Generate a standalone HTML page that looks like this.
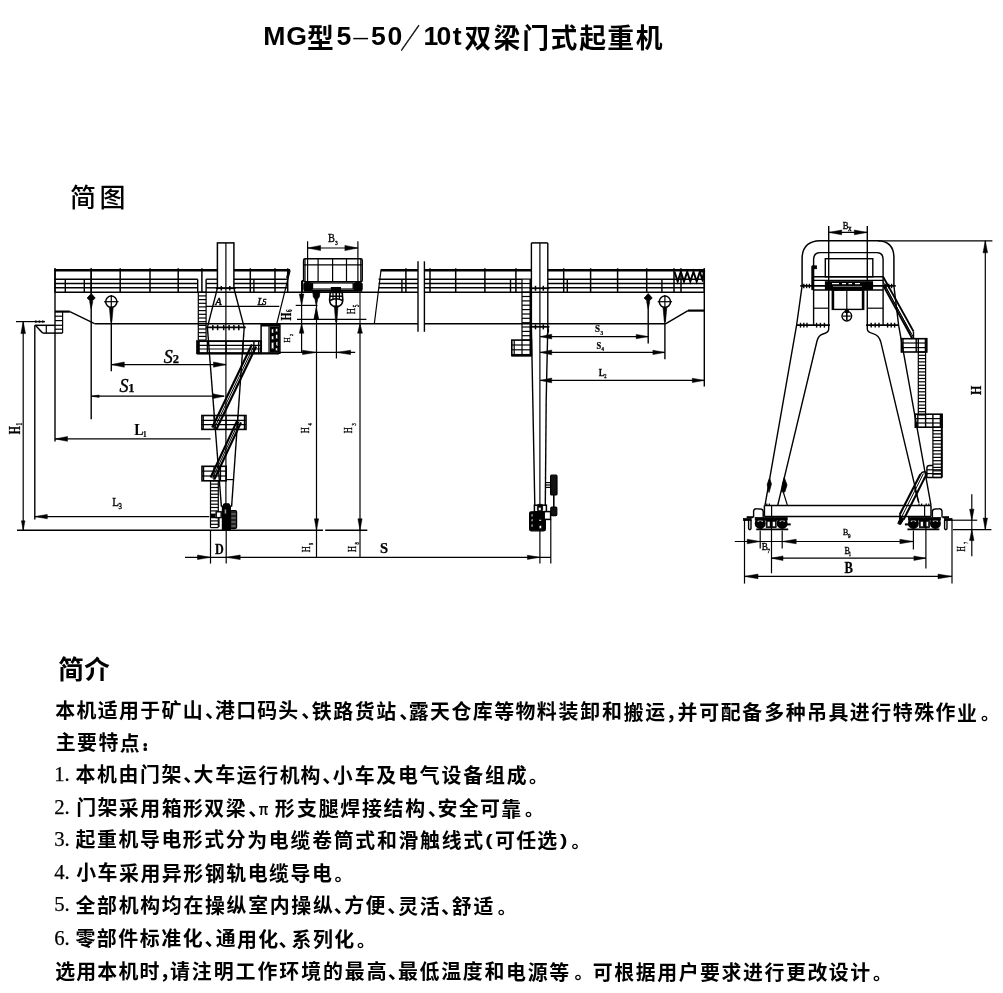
<!DOCTYPE html>
<html lang="zh-CN">
<head>
<meta charset="utf-8">
<title>MG型5—50/10t双梁门式起重机</title>
<style>
html,body{margin:0;padding:0;background:#fff;}
body{width:1003px;height:993px;overflow:hidden;position:relative;font-family:"Liberation Sans","Noto Sans CJK SC",sans-serif;}
svg{position:absolute;left:0;top:0;display:block;will-change:transform;}
text{fill:#000;stroke:none;}
.hei{font-family:"Liberation Sans","Noto Sans CJK SC",sans-serif;font-weight:700;}
.heim{font-family:"Liberation Sans","Noto Sans CJK SC",sans-serif;font-weight:500;}
.thin{font-family:"Liberation Sans","Noto Sans CJK SC",sans-serif;font-weight:400;}
.body{font-family:"Liberation Sans","Noto Sans CJK SC",sans-serif;font-weight:700;}
.colon{font-family:"Liberation Sans","Noto Sans CJK SC",sans-serif;font-weight:700;stroke:#000;stroke-width:2px;stroke-linejoin:round;}
.pun{font-family:"Liberation Serif","Noto Sans CJK SC",sans-serif;font-weight:500;}
.num{font-family:"Liberation Serif","Noto Serif CJK SC",serif;font-weight:400;stroke:#000;stroke-width:0.25px;}
.dim{font-family:"Liberation Serif","Noto Serif CJK SC",serif;font-weight:400;}
.dimb{font-family:"Liberation Serif","Noto Serif CJK SC",serif;font-weight:700;font-style:normal;stroke:#000;stroke-width:0.25px;}
.dims{font-family:"Liberation Serif","Noto Serif CJK SC",serif;font-weight:400;stroke:#000;stroke-width:0.35px;}
.dimi{font-family:"Liberation Serif","Noto Serif CJK SC",serif;font-style:italic;stroke:#000;stroke-width:0.45px;}
.dimbi{font-family:"Liberation Serif","Noto Serif CJK SC",serif;font-style:italic;font-weight:700;}
</style>
</head>
<body>
<svg width="1003" height="993" viewBox="0 0 1003 993">
<g fill="none" stroke="#000" stroke-width="1.2" stroke-linecap="butt">
<line x1="54.7" y1="270.3" x2="217.4" y2="270.3" stroke-width="2.4"/>
<line x1="233.9" y1="270.3" x2="290.1" y2="270.3" stroke-width="2.4"/>
<line x1="380.6" y1="270.3" x2="418" y2="270.3" stroke-width="2.4"/>
<line x1="424.4" y1="270.3" x2="531.4" y2="270.3" stroke-width="2.4"/>
<line x1="547.8" y1="270.3" x2="704.4" y2="270.3" stroke-width="2.4"/>
<line x1="54.7" y1="279.2" x2="197.7" y2="279.2" stroke-width="1.4"/>
<line x1="206.1" y1="279.2" x2="217.4" y2="279.2" stroke-width="1.4"/>
<line x1="233.9" y1="279.2" x2="287.6" y2="279.2" stroke-width="1.4"/>
<line x1="378.6" y1="279.2" x2="418" y2="279.2" stroke-width="1.4"/>
<line x1="424.4" y1="279.2" x2="522" y2="279.2" stroke-width="1.4"/>
<line x1="547.8" y1="279.2" x2="704.4" y2="279.2" stroke-width="1.4"/>
<line x1="54.7" y1="283.5" x2="197.7" y2="283.5" stroke-width="1.4"/>
<line x1="206.1" y1="283.5" x2="217.4" y2="283.5" stroke-width="1.4"/>
<line x1="233.9" y1="283.5" x2="287.6" y2="283.5" stroke-width="1.4"/>
<line x1="378.6" y1="283.5" x2="418" y2="283.5" stroke-width="1.4"/>
<line x1="424.4" y1="283.5" x2="522" y2="283.5" stroke-width="1.4"/>
<line x1="547.8" y1="283.5" x2="704.4" y2="283.5" stroke-width="1.4"/>
<line x1="54.7" y1="287.8" x2="197.7" y2="287.8" stroke-width="1.4"/>
<line x1="206.1" y1="287.8" x2="217.4" y2="287.8" stroke-width="1.4"/>
<line x1="233.9" y1="287.8" x2="287.6" y2="287.8" stroke-width="1.4"/>
<line x1="378.6" y1="287.8" x2="418" y2="287.8" stroke-width="1.4"/>
<line x1="424.4" y1="287.8" x2="522" y2="287.8" stroke-width="1.4"/>
<line x1="547.8" y1="287.8" x2="704.4" y2="287.8" stroke-width="1.4"/>
<line x1="54.7" y1="292.2" x2="418" y2="292.2" stroke-width="1.5"/>
<line x1="424.4" y1="292.2" x2="704.4" y2="292.2" stroke-width="1.5"/>
<line x1="55" y1="268.3" x2="55" y2="292.2" stroke-width="1.5"/>
<line x1="91.2" y1="268.3" x2="91.2" y2="292.2" stroke-width="1.5"/>
<line x1="120.2" y1="268.3" x2="120.2" y2="292.2" stroke-width="1.5"/>
<line x1="150" y1="268.3" x2="150" y2="292.2" stroke-width="1.5"/>
<line x1="178.2" y1="268.3" x2="178.2" y2="292.2" stroke-width="1.5"/>
<line x1="201.9" y1="268.3" x2="201.9" y2="292.2" stroke-width="1.5"/>
<line x1="250.3" y1="268.3" x2="250.3" y2="292.2" stroke-width="1.5"/>
<line x1="275" y1="268.3" x2="275" y2="292.2" stroke-width="1.5"/>
<line x1="287.7" y1="268.3" x2="287.7" y2="292.2" stroke-width="1.5"/>
<line x1="405.9" y1="268.3" x2="405.9" y2="292.2" stroke-width="1.5"/>
<line x1="430" y1="268.3" x2="430" y2="292.2" stroke-width="1.5"/>
<line x1="455.7" y1="268.3" x2="455.7" y2="292.2" stroke-width="1.5"/>
<line x1="484.9" y1="268.3" x2="484.9" y2="292.2" stroke-width="1.5"/>
<line x1="515.9" y1="268.3" x2="515.9" y2="292.2" stroke-width="1.5"/>
<line x1="563.7" y1="268.3" x2="563.7" y2="292.2" stroke-width="1.5"/>
<line x1="590.6" y1="268.3" x2="590.6" y2="292.2" stroke-width="1.5"/>
<line x1="617.6" y1="268.3" x2="617.6" y2="292.2" stroke-width="1.5"/>
<line x1="646.7" y1="268.3" x2="646.7" y2="292.2" stroke-width="1.5"/>
<line x1="674" y1="268.3" x2="674" y2="292.2" stroke-width="1.5"/>
<line x1="681" y1="268.3" x2="681" y2="292.2" stroke-width="1.5"/>
<line x1="704.3" y1="268.3" x2="704.3" y2="292.2" stroke-width="1.5"/>
<line x1="65.3" y1="279.2" x2="65.3" y2="292.2" stroke-width="1.4"/>
<line x1="84.3" y1="279.2" x2="84.3" y2="292.2" stroke-width="1.4"/>
<line x1="197.7" y1="279.2" x2="197.7" y2="292.2" stroke-width="1.4"/>
<line x1="206.1" y1="279.2" x2="206.1" y2="292.2" stroke-width="1.4"/>
<line x1="253.9" y1="279.2" x2="253.9" y2="292.2" stroke-width="1.4"/>
<line x1="401.9" y1="279.2" x2="401.9" y2="292.2" stroke-width="1.4"/>
<line x1="510.5" y1="279.2" x2="510.5" y2="292.2" stroke-width="1.4"/>
<line x1="567.3" y1="279.2" x2="567.3" y2="292.2" stroke-width="1.4"/>
<line x1="661.9" y1="279.2" x2="661.9" y2="292.2" stroke-width="1.4"/>
<line x1="290.1" y1="270.3" x2="276.8" y2="323.7"/>
<line x1="381" y1="270.3" x2="374.3" y2="323.7"/>
<line x1="288.9" y1="271.3" x2="287" y2="278" stroke-width="2"/>
<polyline points="674.5,271.6 677.7,281.6 680.8,271.6 684,281.6 687.2,271.6 690.3,281.6 693.5,271.6 696.7,281.6 699.8,271.6 703,281.6" stroke-width="1.9"/>
<polyline points="700,271 704,272 702.5,279" stroke-width="2"/>
<line x1="94.6" y1="323.7" x2="418" y2="323.7" stroke-width="1.4"/>
<line x1="424.4" y1="323.7" x2="665.9" y2="323.7" stroke-width="1.4"/>
<line x1="55" y1="268.5" x2="55" y2="441.5" stroke-width="1.4"/>
<line x1="55" y1="311.6" x2="69.8" y2="311.6" stroke-width="2.2"/>
<line x1="69.8" y1="311.6" x2="94.6" y2="323.7" stroke-width="1.4"/>
<line x1="62.6" y1="311.6" x2="62.6" y2="333.1"/>
<line x1="55" y1="316.2" x2="62.6" y2="316.2"/>
<line x1="55" y1="320.6" x2="62.6" y2="320.6"/>
<line x1="55" y1="325.3" x2="62.6" y2="325.3"/>
<line x1="55" y1="329.2" x2="62.6" y2="329.2"/>
<line x1="34.8" y1="325.3" x2="55" y2="325.3" stroke-width="1.5"/>
<line x1="42.6" y1="333.1" x2="62.6" y2="333.1" stroke-width="1.5"/>
<line x1="35.6" y1="325.6" x2="42.6" y2="333.1" stroke-width="1.5"/>
<line x1="46.3" y1="325.3" x2="46.3" y2="333.1"/>
<line x1="34.8" y1="325.3" x2="34.8" y2="519.5" stroke-width="1.4"/>
<line x1="665.9" y1="323.7" x2="688" y2="310.6" stroke-width="1.4"/>
<line x1="688" y1="310.6" x2="704.3" y2="310.6" stroke-width="2.2"/>
<line x1="704.3" y1="268.5" x2="704.3" y2="386.5" stroke-width="1.4"/>
<line x1="418" y1="261.3" x2="418" y2="331.8" stroke-width="1.4"/>
<line x1="424.4" y1="261.3" x2="424.4" y2="331.8" stroke-width="1.4"/>
<polygon points="91.2,293.6 95.2,298 91.2,302 87.2,298" stroke-width="0.8" fill="#000"/>
<polygon points="89.6,301.5 92.8,301.5 91.2,309" stroke-width="0.6" fill="#000"/>
<line x1="91.2" y1="302" x2="91.2" y2="419.3" stroke-width="1.4"/>
<circle cx="111.3" cy="301.7" r="5.6" stroke-width="1.5"/>
<line x1="104.1" y1="301.7" x2="118.5" y2="301.7"/>
<line x1="111.3" y1="295" x2="111.3" y2="308"/>
<polygon points="109.4,307.5 113.2,307.5 111.9,321.5 110.7,321.5" stroke-width="0.6" fill="#000"/>
<line x1="111.3" y1="308" x2="111.3" y2="371.2" stroke-width="1.4"/>
<polygon points="648.2,293.6 652.2,298 648.2,302 644.2,298" stroke-width="0.8" fill="#000"/>
<polygon points="646.6,301.5 649.8,301.5 648.2,309" stroke-width="0.6" fill="#000"/>
<line x1="648.2" y1="302" x2="648.2" y2="343.5" stroke-width="1.4"/>
<circle cx="664.9" cy="301.7" r="5.6" stroke-width="1.5"/>
<line x1="657.7" y1="301.7" x2="672.1" y2="301.7"/>
<line x1="664.9" y1="295" x2="664.9" y2="308"/>
<polygon points="663,307.5 666.8,307.5 665.5,321.5 664.3,321.5" stroke-width="0.6" fill="#000"/>
<line x1="664.9" y1="308" x2="664.9" y2="359.2" stroke-width="1.4"/>
<line x1="91.2" y1="268.5" x2="91.2" y2="294" stroke-width="1.5"/>
<rect x="217.4" y="242.9" width="16.5" height="45.3" stroke-width="1.5"/>
<line x1="225.9" y1="242.9" x2="225.9" y2="506"/>
<line x1="215.8" y1="288.2" x2="235.6" y2="288.2" stroke-width="1.8"/>
<line x1="221.3" y1="286" x2="221.3" y2="290.6" stroke-width="1.5"/>
<line x1="229.8" y1="286" x2="229.8" y2="290.6" stroke-width="1.5"/>
<line x1="217.4" y1="288.2" x2="207.4" y2="327.4" stroke-width="1.4"/>
<line x1="233.9" y1="288.2" x2="244.2" y2="327.4" stroke-width="1.4"/>
<line x1="205.8" y1="327.4" x2="245.8" y2="327.4" stroke-width="1.8"/>
<line x1="212.8" y1="325" x2="212.8" y2="330.2" stroke-width="1.5"/>
<line x1="217.6" y1="325" x2="217.6" y2="330.2" stroke-width="1.5"/>
<line x1="223.7" y1="325" x2="223.7" y2="330.2" stroke-width="1.5"/>
<line x1="229.1" y1="325" x2="229.1" y2="330.2" stroke-width="1.5"/>
<line x1="233.9" y1="325" x2="233.9" y2="330.2" stroke-width="1.5"/>
<line x1="238.8" y1="325" x2="238.8" y2="330.2" stroke-width="1.5"/>
<line x1="207.4" y1="327.4" x2="221.4" y2="506.8" stroke-width="1.4"/>
<line x1="244.2" y1="327.4" x2="231.6" y2="506.8" stroke-width="1.4"/>
<line x1="206.1" y1="306.3" x2="279.3" y2="306.3"/>
<line x1="198.3" y1="292.2" x2="198.3" y2="340.1"/>
<line x1="206.1" y1="292.2" x2="206.1" y2="340.1"/>
<line x1="198.3" y1="292.2" x2="206.1" y2="292.2"/>
<line x1="198.3" y1="295.9" x2="206.1" y2="295.9"/>
<line x1="198.3" y1="299.6" x2="206.1" y2="299.6"/>
<line x1="198.3" y1="303.3" x2="206.1" y2="303.3"/>
<line x1="198.3" y1="306.9" x2="206.1" y2="306.9"/>
<line x1="198.3" y1="310.6" x2="206.1" y2="310.6"/>
<line x1="198.3" y1="314.3" x2="206.1" y2="314.3"/>
<line x1="198.3" y1="318" x2="206.1" y2="318"/>
<line x1="198.3" y1="321.7" x2="206.1" y2="321.7"/>
<line x1="198.3" y1="325.4" x2="206.1" y2="325.4"/>
<line x1="198.3" y1="329" x2="206.1" y2="329"/>
<line x1="198.3" y1="332.7" x2="206.1" y2="332.7"/>
<line x1="198.3" y1="336.4" x2="206.1" y2="336.4"/>
<line x1="198.3" y1="340.1" x2="206.1" y2="340.1"/>
<rect x="197.1" y="341.1" width="64" height="12.1" stroke-width="1.9"/>
<line x1="197.1" y1="345.4" x2="261.1" y2="345.4"/>
<line x1="197.1" y1="349" x2="261.1" y2="349"/>
<line x1="198.4" y1="341.1" x2="198.4" y2="353.2" stroke-width="2.8"/>
<line x1="207.4" y1="341.1" x2="207.4" y2="353.2" stroke-width="1.4"/>
<line x1="226.1" y1="341.1" x2="226.1" y2="353.2" stroke-width="1.4"/>
<line x1="243" y1="341.1" x2="243" y2="353.2" stroke-width="1.4"/>
<line x1="253.9" y1="341.1" x2="253.9" y2="353.2" stroke-width="1.4"/>
<line x1="258.7" y1="341.1" x2="258.7" y2="353.2" stroke-width="1.4"/>
<line x1="197.1" y1="353.6" x2="279" y2="353.6" stroke-width="2"/>
<rect x="261.1" y="324.8" width="18.8" height="28.4" stroke-width="1.5"/>
<line x1="261.1" y1="325.4" x2="279.9" y2="325.4" stroke-width="2.2"/>
<line x1="269" y1="325" x2="269" y2="353.2"/>
<rect x="270.4" y="327" width="8.6" height="25" fill="#000"/>
<rect x="271.6" y="329" width="1.8" height="4" stroke-width="0.4" fill="#fff"/>
<rect x="275.6" y="328.6" width="2" height="3" stroke-width="0.4" fill="#fff"/>
<rect x="271.6" y="336" width="2" height="3.4" stroke-width="0.4" fill="#fff"/>
<rect x="275.8" y="334.6" width="1.8" height="4" stroke-width="0.4" fill="#fff"/>
<rect x="271.4" y="342.4" width="2.4" height="6.2" stroke-width="0.4" fill="#fff"/>
<rect x="276" y="341.6" width="1.8" height="4.4" stroke-width="0.4" fill="#fff"/>
<rect x="275.6" y="348" width="1.8" height="2.6" stroke-width="0.4" fill="#fff"/>
<line x1="252" y1="344.6" x2="212.2" y2="427.4" stroke-width="2.2"/>
<line x1="256.1" y1="346.6" x2="216.3" y2="429.4" stroke-width="2.2"/>
<line x1="254.1" y1="345.6" x2="214.3" y2="428.4" stroke-width="1"/>
<rect x="201.9" y="415.5" width="44.1" height="13.9" stroke-width="1.6"/>
<line x1="201.9" y1="420.3" x2="246" y2="420.3"/>
<line x1="201.9" y1="424.6" x2="246" y2="424.6"/>
<line x1="203.3" y1="415.5" x2="203.3" y2="429.4"/>
<line x1="214" y1="415.5" x2="214" y2="429.4"/>
<line x1="226.1" y1="415.5" x2="226.1" y2="429.4"/>
<line x1="237.6" y1="415.5" x2="237.6" y2="429.4"/>
<line x1="244.4" y1="415.5" x2="244.4" y2="429.4"/>
<line x1="237.2" y1="420.6" x2="210.6" y2="477.5" stroke-width="2.2"/>
<line x1="241" y1="422.4" x2="214.4" y2="479.3" stroke-width="2.2"/>
<line x1="239.1" y1="421.5" x2="212.5" y2="478.4" stroke-width="1"/>
<rect x="202" y="466.3" width="24.2" height="14.5" stroke-width="1.6"/>
<line x1="202" y1="471.1" x2="226.2" y2="471.1"/>
<line x1="202" y1="476" x2="226.2" y2="476"/>
<line x1="203.6" y1="466.3" x2="203.6" y2="480.8"/>
<line x1="214" y1="466.3" x2="214" y2="480.8"/>
<line x1="220.5" y1="466.3" x2="220.5" y2="480.8"/>
<line x1="226.2" y1="479.6" x2="233.4" y2="479.6"/>
<line x1="210.5" y1="480.8" x2="210.5" y2="527.6"/>
<line x1="218.3" y1="480.8" x2="218.3" y2="527.6"/>
<line x1="210.5" y1="480.8" x2="218.3" y2="480.8"/>
<line x1="210.5" y1="484.1" x2="218.3" y2="484.1"/>
<line x1="210.5" y1="487.5" x2="218.3" y2="487.5"/>
<line x1="210.5" y1="490.8" x2="218.3" y2="490.8"/>
<line x1="210.5" y1="494.2" x2="218.3" y2="494.2"/>
<line x1="210.5" y1="497.5" x2="218.3" y2="497.5"/>
<line x1="210.5" y1="500.9" x2="218.3" y2="500.9"/>
<line x1="210.5" y1="504.2" x2="218.3" y2="504.2"/>
<line x1="210.5" y1="507.5" x2="218.3" y2="507.5"/>
<line x1="210.5" y1="510.9" x2="218.3" y2="510.9"/>
<line x1="210.5" y1="514.2" x2="218.3" y2="514.2"/>
<line x1="210.5" y1="517.6" x2="218.3" y2="517.6"/>
<line x1="210.5" y1="520.9" x2="218.3" y2="520.9"/>
<line x1="210.5" y1="524.3" x2="218.3" y2="524.3"/>
<line x1="210.5" y1="527.6" x2="218.3" y2="527.6"/>
<rect x="222.4" y="506" width="8" height="23.8" fill="#000"/>
<rect x="230.4" y="510.5" width="6.2" height="18.1" fill="#222" rx="1.5"/>
<rect x="223.6" y="503.8" width="5.8" height="2.7" fill="#000" rx="1"/>
<rect x="216.2" y="511.8" width="5" height="5.8" stroke-width="1.4" fill="#fff"/>
<rect x="224.3" y="509" width="2.7" height="5" stroke-width="0.8" fill="#fff"/>
<line x1="231.4" y1="514" x2="235.8" y2="514" stroke-width="0.9" stroke="#999"/>
<line x1="231.4" y1="518" x2="235.8" y2="518" stroke-width="0.9" stroke="#999"/>
<line x1="231.4" y1="522" x2="235.8" y2="522" stroke-width="0.9" stroke="#999"/>
<line x1="231.4" y1="526" x2="235.8" y2="526" stroke-width="0.9" stroke="#999"/>
<rect x="210.5" y="514.5" width="4.5" height="3" stroke-width="1" fill="#000"/>
<line x1="219" y1="518" x2="219" y2="527"/>
<line x1="531.4" y1="242.9" x2="531.4" y2="326.8" stroke-width="1.4"/>
<line x1="547.8" y1="242.9" x2="547.8" y2="326.8" stroke-width="1.4"/>
<line x1="531.4" y1="242.9" x2="547.8" y2="242.9" stroke-width="1.5"/>
<line x1="539.9" y1="242.9" x2="539.9" y2="563.6"/>
<line x1="547.8" y1="326.8" x2="546.2" y2="400" stroke-width="1.4"/>
<line x1="546.2" y1="400" x2="545.3" y2="505" stroke-width="1.4"/>
<line x1="531.4" y1="326.8" x2="532.8" y2="400" stroke-width="1.4"/>
<line x1="532.8" y1="400" x2="534.8" y2="505" stroke-width="1.4"/>
<polyline points="547.8,326.8 548.6,331 546.8,336"/>
<line x1="529.8" y1="288.2" x2="549.4" y2="288.2" stroke-width="1.8"/>
<line x1="535.5" y1="285.8" x2="535.5" y2="290.8" stroke-width="1.5"/>
<line x1="543.3" y1="285.8" x2="543.3" y2="290.8" stroke-width="1.5"/>
<line x1="529.8" y1="326.8" x2="549.4" y2="326.8" stroke-width="1.8"/>
<line x1="535.5" y1="324.4" x2="535.5" y2="329.4" stroke-width="1.5"/>
<line x1="543.3" y1="324.4" x2="543.3" y2="329.4" stroke-width="1.5"/>
<line x1="522" y1="279.1" x2="522" y2="340.1"/>
<line x1="531" y1="279.1" x2="531" y2="340.1"/>
<line x1="522" y1="279.1" x2="531" y2="279.1"/>
<line x1="522" y1="283.5" x2="531" y2="283.5"/>
<line x1="522" y1="287.8" x2="531" y2="287.8"/>
<line x1="522" y1="292.2" x2="531" y2="292.2"/>
<line x1="522" y1="296.5" x2="531" y2="296.5"/>
<line x1="522" y1="300.9" x2="531" y2="300.9"/>
<line x1="522" y1="305.2" x2="531" y2="305.2"/>
<line x1="522" y1="309.6" x2="531" y2="309.6"/>
<line x1="522" y1="314" x2="531" y2="314"/>
<line x1="522" y1="318.3" x2="531" y2="318.3"/>
<line x1="522" y1="322.7" x2="531" y2="322.7"/>
<line x1="522" y1="327" x2="531" y2="327"/>
<line x1="522" y1="331.4" x2="531" y2="331.4"/>
<line x1="522" y1="335.7" x2="531" y2="335.7"/>
<line x1="522" y1="340.1" x2="531" y2="340.1"/>
<line x1="530.6" y1="279" x2="530.6" y2="356" stroke-width="2.2"/>
<rect x="511.8" y="340.1" width="19.6" height="15.5" stroke-width="1.6"/>
<line x1="511.8" y1="345" x2="531.4" y2="345"/>
<line x1="511.8" y1="349.8" x2="531.4" y2="349.8"/>
<line x1="514.2" y1="340.1" x2="514.2" y2="355.6"/>
<line x1="522" y1="340.1" x2="522" y2="355.6"/>
<line x1="511.8" y1="355.2" x2="531.4" y2="355.2" stroke-width="2.5"/>
<rect x="529.6" y="511.8" width="15.8" height="19" fill="#000" rx="1.5"/>
<rect x="531.2" y="514" width="1.6" height="2.4" stroke-width="0.4" fill="#fff"/>
<rect x="531.2" y="519" width="1.6" height="2.2" stroke-width="0.4" fill="#fff"/>
<rect x="531.2" y="524.2" width="1.6" height="2.4" stroke-width="0.4" fill="#fff"/>
<rect x="539.2" y="525.6" width="2.2" height="2.8" stroke-width="0.4" fill="#fff"/>
<rect x="539" y="519.6" width="2.2" height="1.4" stroke-width="0.4" fill="#fff"/>
<rect x="534.4" y="505.2" width="12" height="6.6" stroke-width="1.5"/>
<rect x="537.4" y="504.4" width="5.2" height="6.6" stroke-width="0.8" fill="#000" rx="1"/>
<rect x="538.6" y="507.4" width="2.4" height="3" stroke-width="0.4" fill="#fff"/>
<rect x="544.2" y="511.6" width="6.4" height="7.8" stroke-width="1.5" fill="#fff"/>
<rect x="550.6" y="475.2" width="6.4" height="19.8" fill="#111" rx="1"/>
<line x1="545.6" y1="482.6" x2="550.6" y2="482.6"/>
<line x1="545.6" y1="485" x2="550.6" y2="485"/>
<line x1="545.6" y1="487.4" x2="550.6" y2="487.4"/>
<line x1="553.8" y1="495" x2="553.8" y2="507" stroke-width="1.6"/>
<rect x="550.8" y="507" width="6" height="8.6" fill="#111" rx="1"/>
<line x1="550.8" y1="519.4" x2="550.8" y2="563.6"/>
<rect x="303.6" y="258.8" width="58.6" height="23" stroke-width="1.5" rx="1.5"/>
<line x1="303.6" y1="264.9" x2="362.2" y2="264.9"/>
<line x1="305" y1="258.8" x2="305" y2="281.8"/>
<line x1="318.1" y1="258.8" x2="318.1" y2="281.8"/>
<line x1="332.6" y1="258.8" x2="332.6" y2="281.8"/>
<line x1="346.5" y1="258.8" x2="346.5" y2="281.8"/>
<line x1="360.8" y1="258.8" x2="360.8" y2="281.8"/>
<rect x="303.8" y="282.6" width="8.4" height="8" stroke-width="1" fill="#000" rx="1.5"/>
<rect x="353.8" y="282.6" width="8.4" height="8" stroke-width="1" fill="#000" rx="1.5"/>
<rect x="312.6" y="283" width="40.5" height="6"/>
<line x1="303.8" y1="290.8" x2="362.2" y2="290.8" stroke-width="2"/>
<line x1="302.4" y1="280" x2="302.4" y2="292" stroke-width="1.5"/>
<polygon points="312.6,290.5 320.2,290.5 319.2,297 317.6,299 316.3,306 315,299 313.4,297" stroke-width="0.8" fill="#000"/>
<polygon points="316.3,308 318.4,319.3 314.2,319.3" stroke-width="0.6" fill="#000"/>
<rect x="331.4" y="287.6" width="9" height="4.8" fill="#000"/>
<path d="M330.2 292.4 L342.2 292.4 L342.8 300 Q342.6 305 338.4 306.4 L334 306.4 Q329.8 305 329.6 300 Z" stroke-width="1.6"/>
<line x1="336.2" y1="292.4" x2="336.2" y2="306.4" stroke-width="1.6"/>
<line x1="333" y1="292.4" x2="333" y2="299"/>
<line x1="339.4" y1="292.4" x2="339.4" y2="299"/>
<line x1="330" y1="296.2" x2="342.6" y2="296.2" stroke-width="1.5"/>
<path d="M330 300.5 Q336.2 296.8 342.6 300.5" stroke-width="1.5"/>
<polygon points="334.4,306.4 338,306.4 336.8,322 335.6,322" stroke-width="0.6" fill="#000"/>
<line x1="17" y1="530.3" x2="323" y2="530.3" stroke-width="1.6"/>
<line x1="325.2" y1="530.3" x2="367.3" y2="530.3" stroke-width="1.6"/>
<line x1="23.2" y1="321.6" x2="23.2" y2="530.3"/>
<polygon points="23.2,321.6 20.9,333.6 25.5,333.6" fill="#000" stroke-width="0.5"/>
<polygon points="23.2,530.3 21.4,520.8 25,520.8" fill="#000" stroke-width="0.5"/>
<line x1="16" y1="321.6" x2="45" y2="321.6"/>
<polygon points="38,321.6 35.4,320.5 35.4,322.7" fill="#000" stroke-width="0.5"/>
<polygon points="41.5,321.6 38.9,320.5 38.9,322.7" fill="#000" stroke-width="0.5"/>
<polygon points="45,321.6 42.4,320.5 42.4,322.7" fill="#000" stroke-width="0.5"/>
<line x1="55" y1="438.9" x2="210.6" y2="438.9"/>
<polygon points="55,438.9 67.5,436.5 67.5,441.3" fill="#000" stroke-width="0.5"/>
<line x1="34.8" y1="516.6" x2="209.3" y2="516.6"/>
<polygon points="34.8,516.6 47.3,514.4 47.3,518.8" fill="#000" stroke-width="0.5"/>
<line x1="111.3" y1="364.6" x2="226.1" y2="364.6"/>
<polygon points="111.3,364.6 124.3,362 124.3,367.2" fill="#000" stroke-width="0.5"/>
<polygon points="226.1,364.6 213.5,362 213.5,367.2" fill="#000" stroke-width="0.5"/>
<line x1="91.2" y1="396.2" x2="224" y2="396.2"/>
<polygon points="91.2,396.2 99.2,395 99.2,397.4" fill="#000" stroke-width="0.5"/>
<polygon points="224.4,396.2 212.9,393.8 212.9,398.6" fill="#000" stroke-width="0.5"/>
<line x1="185" y1="557.3" x2="551" y2="557.3"/>
<line x1="210.5" y1="530.3" x2="210.5" y2="563.6"/>
<line x1="226.2" y1="506" x2="226.2" y2="563.6"/>
<polygon points="210.5,557.3 197.5,555 197.5,559.6" fill="#000" stroke-width="0.5"/>
<polygon points="226.2,557.3 240.2,555 240.2,559.6" fill="#000" stroke-width="0.5"/>
<polygon points="539.9,557.3 527.4,555.2 527.4,559.4" fill="#000" stroke-width="0.5"/>
<line x1="316.5" y1="306" x2="316.5" y2="557.3"/>
<polygon points="316.5,530.3 314.4,518.8 318.6,518.8" fill="#000" stroke-width="0.5"/>
<line x1="360" y1="323.7" x2="360" y2="557.3"/>
<polygon points="360,530.3 357.9,518.8 362.1,518.8" fill="#000" stroke-width="0.5"/>
<polygon points="360,323.7 357.6,333.2 362.4,333.2" fill="#000" stroke-width="0.5"/>
<line x1="360" y1="292.2" x2="360" y2="323.7" stroke-width="1.1"/>
<line x1="301.6" y1="281" x2="301.6" y2="352.5"/>
<polygon points="301.6,305.4 299.3,293.9 303.9,293.9" fill="#000" stroke-width="0.5"/>
<polygon points="301.6,323.7 299.3,333.2 303.9,333.2" fill="#000" stroke-width="0.5"/>
<line x1="295.7" y1="305.4" x2="317.5" y2="305.4"/>
<line x1="297" y1="319.3" x2="366.4" y2="319.3"/>
<polygon points="316.3,306.2 316.2,306.3 316.4,306.3" fill="#000" stroke-width="0.5"/>
<polygon points="316.3,307.8 318.6,319.3 314,319.3" stroke-width="0.6" fill="#000"/>
<line x1="336.4" y1="322" x2="336.4" y2="358.4"/>
<line x1="278.7" y1="352.4" x2="355.2" y2="352.4"/>
<polygon points="316.5,352.4 302.5,350.2 302.5,354.6" fill="#000" stroke-width="0.5"/>
<polygon points="336.6,352.4 350.6,350.2 350.6,354.6" fill="#000" stroke-width="0.5"/>
<line x1="307.6" y1="241.3" x2="307.6" y2="283"/>
<line x1="357.9" y1="241.3" x2="357.9" y2="283"/>
<line x1="307.6" y1="248" x2="357.9" y2="248"/>
<polygon points="307.6,248 320.6,245.4 320.6,250.6" fill="#000" stroke-width="0.5"/>
<polygon points="357.9,248 344.9,245.4 344.9,250.6" fill="#000" stroke-width="0.5"/>
<line x1="540.2" y1="336.6" x2="648.2" y2="336.6"/>
<polygon points="540.2,336.6 551.7,334.2 551.7,339" fill="#000" stroke-width="0.5"/>
<polygon points="648.2,336.6 636.2,334.4 636.2,338.8" fill="#000" stroke-width="0.5"/>
<line x1="540.2" y1="352.4" x2="664.9" y2="352.4"/>
<polygon points="540.2,352.4 551.7,350 551.7,354.8" fill="#000" stroke-width="0.5"/>
<polygon points="664.9,352.4 652.9,350.2 652.9,354.6" fill="#000" stroke-width="0.5"/>
<line x1="540.2" y1="380.4" x2="704.3" y2="380.4"/>
<polygon points="540.2,380.4 551.7,378 551.7,382.8" fill="#000" stroke-width="0.5"/>
<polygon points="704.3,380.4 692.3,378.2 692.3,382.6" fill="#000" stroke-width="0.5"/>
<path d="M802.1 285.9 L802.1 258 Q802.6 241.2 820 240.8 L878 240.8 Q893.6 241.4 893.9 257 L893.9 285.9" stroke-width="1.5"/>
<path d="M813.6 326 L813.6 259 Q813.8 252.8 820 252.6 L877 252.6 Q883 252.8 883.1 259 L883.1 326" stroke-width="1.4"/>
<rect x="825.3" y="258.7" width="47.5" height="18.1" stroke-width="1.4"/>
<line x1="828.7" y1="226" x2="828.7" y2="326" stroke-width="1.4"/>
<line x1="867.3" y1="226" x2="867.3" y2="326" stroke-width="1.4"/>
<line x1="828.7" y1="232.4" x2="867.3" y2="232.4"/>
<polygon points="828.7,232.4 841.7,230 841.7,234.8" fill="#000" stroke-width="0.5"/>
<polygon points="867.3,232.4 854.3,230 854.3,234.8" fill="#000" stroke-width="0.5"/>
<line x1="813.6" y1="276.8" x2="883.1" y2="276.8" stroke-width="1.4"/>
<line x1="813.6" y1="280.4" x2="883.1" y2="280.4" stroke-width="1.4"/>
<line x1="800.3" y1="285.9" x2="895.7" y2="285.9" stroke-width="1.8"/>
<line x1="813.6" y1="290.1" x2="883.1" y2="290.1" stroke-width="1.5"/>
<rect x="825.5" y="281.8" width="47" height="7.6" fill="#000"/>
<line x1="832" y1="283.6" x2="839" y2="283.6" stroke="#fff"/>
<line x1="842" y1="283.6" x2="846" y2="283.6" stroke="#fff"/>
<line x1="848.5" y1="283.6" x2="852" y2="283.6" stroke="#fff"/>
<line x1="855" y1="283.6" x2="860" y2="283.6" stroke="#fff"/>
<line x1="833" y1="286.4" x2="862" y2="286.4" stroke-width="0.9" stroke="#888"/>
<line x1="803.8" y1="283.8" x2="803.8" y2="288.2" stroke-width="1.4"/>
<line x1="806.6" y1="283.8" x2="806.6" y2="288.2" stroke-width="1.4"/>
<line x1="809.4" y1="283.8" x2="809.4" y2="288.2" stroke-width="1.4"/>
<line x1="885.8" y1="283.8" x2="885.8" y2="288.2" stroke-width="1.4"/>
<line x1="888.8" y1="283.8" x2="888.8" y2="288.2" stroke-width="1.4"/>
<line x1="891.6" y1="283.8" x2="891.6" y2="288.2" stroke-width="1.4"/>
<line x1="812.4" y1="265.9" x2="812.4" y2="290.1" stroke-width="2.2"/>
<rect x="812.4" y="265.9" width="4" height="2.7" stroke-width="1" fill="#000"/>
<rect x="832.3" y="290.1" width="31.4" height="19.3" stroke-width="1.4"/>
<line x1="846.8" y1="290.1" x2="846.8" y2="311.5"/>
<line x1="833.6" y1="290.1" x2="833.6" y2="309.4"/>
<line x1="862.4" y1="290.1" x2="862.4" y2="309.4"/>
<line x1="813.6" y1="308.2" x2="828.7" y2="308.2"/>
<line x1="867.3" y1="308.2" x2="883.1" y2="308.2"/>
<circle cx="846.8" cy="316.1" r="4.8" stroke-width="1.5"/>
<line x1="846.8" y1="309.4" x2="846.8" y2="320" stroke-width="1.6"/>
<line x1="843" y1="316.1" x2="850.6" y2="316.1"/>
<rect x="845.2" y="310" width="3.2" height="2.6" stroke-width="0.8" fill="#000"/>
<line x1="796.6" y1="325.1" x2="829.9" y2="325.1" stroke-width="1.8"/>
<line x1="866.1" y1="325.1" x2="898.8" y2="325.1" stroke-width="1.8"/>
<line x1="800.5" y1="322.8" x2="800.5" y2="327.6" stroke-width="1.4"/>
<line x1="803.8" y1="322.8" x2="803.8" y2="327.6" stroke-width="1.4"/>
<line x1="807" y1="322.8" x2="807" y2="327.6" stroke-width="1.4"/>
<line x1="816.6" y1="322.8" x2="816.6" y2="327.6" stroke-width="1.4"/>
<line x1="820.4" y1="322.8" x2="820.4" y2="327.6" stroke-width="1.4"/>
<line x1="824.4" y1="322.8" x2="824.4" y2="327.6" stroke-width="1.4"/>
<line x1="871.2" y1="322.8" x2="871.2" y2="327.6" stroke-width="1.4"/>
<line x1="875.2" y1="322.8" x2="875.2" y2="327.6" stroke-width="1.4"/>
<line x1="879" y1="322.8" x2="879" y2="327.6" stroke-width="1.4"/>
<line x1="887.6" y1="322.8" x2="887.6" y2="327.6" stroke-width="1.4"/>
<line x1="891.2" y1="322.8" x2="891.2" y2="327.6" stroke-width="1.4"/>
<line x1="894.6" y1="322.8" x2="894.6" y2="327.6" stroke-width="1.4"/>
<polyline points="802.1,285.9 796.6,325.1 765,505.4" stroke-width="1.4"/>
<polyline points="893.9,285.9 898.6,325.1 931,505.4" stroke-width="1.4"/>
<path d="M828.7 325.1 L828.7 329 Q828.7 332.6 823 334 Q818.6 335 817 341 L777.7 505.4" stroke-width="1.4"/>
<path d="M867.3 325.1 L867.3 329 Q867.3 332.2 873 333.6 Q879 335 880.9 342.3 L918.8 502.7" stroke-width="1.4"/>
<polygon points="769.5,478 771.4,484 769,492.5 767.2,484.5" stroke-width="0.8" fill="#000"/>
<polygon points="784.2,477.5 787,485 784.8,492 781.6,491.8 782.4,484" stroke-width="0.8" fill="#000"/>
<line x1="783.2" y1="491.8" x2="787.4" y2="505.4"/>
<line x1="918.8" y1="502.7" x2="914" y2="486"/>
<line x1="764.4" y1="505.4" x2="931" y2="505.4" stroke-width="1.5"/>
<line x1="764.4" y1="516.5" x2="931" y2="516.5" stroke-width="1.5"/>
<line x1="764.4" y1="505.4" x2="764.4" y2="516.5" stroke-width="1.5"/>
<line x1="771.6" y1="505.4" x2="771.6" y2="516.5"/>
<line x1="931" y1="505.4" x2="931" y2="516.5" stroke-width="1.5"/>
<line x1="924.6" y1="505.4" x2="924.6" y2="516.5"/>
<line x1="766.8" y1="503.4" x2="766.8" y2="505.4"/>
<line x1="769.4" y1="503.4" x2="769.4" y2="505.4"/>
<line x1="926.2" y1="503.4" x2="926.2" y2="505.4"/>
<line x1="928.8" y1="503.4" x2="928.8" y2="505.4"/>
<line x1="921.6" y1="503.4" x2="921.6" y2="505.4"/>
<line x1="919" y1="503.4" x2="919" y2="505.4"/>
<circle cx="760.2" cy="523.4" r="4.6" stroke-width="1.8" fill="#000"/>
<circle cx="782.2" cy="523.4" r="4.6" stroke-width="1.8" fill="#000"/>
<path stroke="#fff" d="M757.6 521.4 Q760.2 519.4 762.8 521.4" stroke-width="1.4"/>
<path stroke="#fff" d="M779.6 521.4 Q782.2 519.4 784.8 521.4" stroke-width="1.4"/>
<rect x="755.2" y="517.6" width="32" height="2.6" stroke-width="0.8" fill="#000"/>
<rect x="766.2" y="519" width="10" height="8.6" stroke-width="0.8" fill="#000"/>
<line x1="756.2" y1="529.4" x2="788.2" y2="529.4" stroke-width="1.8"/>
<line x1="786.2" y1="524.4" x2="790.7" y2="524.4" stroke-width="2"/>
<rect x="767.2" y="521.5" width="2.8" height="5.1" stroke-width="0.5" fill="#fff"/>
<rect x="772.4" y="521.5" width="2.8" height="5.1" stroke-width="0.5" fill="#fff"/>
<path d="M753.6 517.4 L753.6 511.2 Q754 508.6 756.4 508.8 L760.6 509 Q763 509 763.2 511.4 L763.2 517.4" stroke-width="1.4"/>
<rect x="743.6" y="518.6" width="7.6" height="2" stroke-width="0.8" fill="#000"/>
<path d="M748.6 520 L748.6 528.6 Q749.8 530.8 751 528.6 L751 520" stroke-width="1.4"/>
<line x1="746.6" y1="517.2" x2="753.2" y2="517.2" stroke-width="2"/>
<circle cx="935.4" cy="523.4" r="4.6" stroke-width="1.8" fill="#000"/>
<circle cx="913.4" cy="523.4" r="4.6" stroke-width="1.8" fill="#000"/>
<path stroke="#fff" d="M938 521.4 Q935.4 519.4 932.8 521.4" stroke-width="1.4"/>
<path stroke="#fff" d="M916 521.4 Q913.4 519.4 910.8 521.4" stroke-width="1.4"/>
<rect x="908.4" y="517.6" width="32" height="2.6" stroke-width="0.8" fill="#000"/>
<rect x="919.4" y="519" width="10" height="8.6" stroke-width="0.8" fill="#000"/>
<line x1="939.4" y1="529.4" x2="907.4" y2="529.4" stroke-width="1.8"/>
<line x1="909.4" y1="524.4" x2="904.9" y2="524.4" stroke-width="2"/>
<rect x="925.6" y="521.5" width="2.8" height="5.1" stroke-width="0.5" fill="#fff"/>
<rect x="920.4" y="521.5" width="2.8" height="5.1" stroke-width="0.5" fill="#fff"/>
<path d="M942 517.4 L942 511.2 Q941.6 508.6 939.2 508.8 L935 509 Q932.6 509 932.4 511.4 L932.4 517.4" stroke-width="1.4"/>
<rect x="944.4" y="518.6" width="7.6" height="2" stroke-width="0.8" fill="#000"/>
<path d="M947 520 L947 528.6 Q945.8 530.8 944.6 528.6 L944.6 520" stroke-width="1.4"/>
<line x1="949" y1="517.2" x2="942.4" y2="517.2" stroke-width="2"/>
<line x1="883.1" y1="276.8" x2="913.5" y2="331.4" stroke-width="1.9"/>
<line x1="883.1" y1="281.6" x2="911" y2="333.6" stroke-width="1"/>
<line x1="883.1" y1="285.4" x2="912.4" y2="338.7" stroke-width="1.9"/>
<line x1="884.4" y1="285" x2="913.5" y2="337.4" stroke-width="1"/>
<line x1="913.5" y1="331.4" x2="913.5" y2="338.7" stroke-width="1.4"/>
<rect x="901.4" y="338.7" width="25.4" height="13.3" stroke-width="1.6"/>
<line x1="901.4" y1="343" x2="926.8" y2="343"/>
<line x1="901.4" y1="347.6" x2="926.8" y2="347.6"/>
<line x1="903" y1="338.7" x2="903" y2="352" stroke-width="1.4"/>
<line x1="916.2" y1="338.7" x2="916.2" y2="352" stroke-width="1.4"/>
<line x1="918.3" y1="338.7" x2="918.3" y2="352" stroke-width="1.4"/>
<line x1="925.4" y1="338.7" x2="925.4" y2="352" stroke-width="1.4"/>
<line x1="918.3" y1="352" x2="918.3" y2="415"/>
<line x1="925.6" y1="352" x2="925.6" y2="415"/>
<line x1="918.3" y1="352" x2="925.6" y2="352"/>
<line x1="918.3" y1="355.3" x2="925.6" y2="355.3"/>
<line x1="918.3" y1="358.6" x2="925.6" y2="358.6"/>
<line x1="918.3" y1="361.9" x2="925.6" y2="361.9"/>
<line x1="918.3" y1="365.3" x2="925.6" y2="365.3"/>
<line x1="918.3" y1="368.6" x2="925.6" y2="368.6"/>
<line x1="918.3" y1="371.9" x2="925.6" y2="371.9"/>
<line x1="918.3" y1="375.2" x2="925.6" y2="375.2"/>
<line x1="918.3" y1="378.5" x2="925.6" y2="378.5"/>
<line x1="918.3" y1="381.8" x2="925.6" y2="381.8"/>
<line x1="918.3" y1="385.2" x2="925.6" y2="385.2"/>
<line x1="918.3" y1="388.5" x2="925.6" y2="388.5"/>
<line x1="918.3" y1="391.8" x2="925.6" y2="391.8"/>
<line x1="918.3" y1="395.1" x2="925.6" y2="395.1"/>
<line x1="918.3" y1="398.4" x2="925.6" y2="398.4"/>
<line x1="918.3" y1="401.7" x2="925.6" y2="401.7"/>
<line x1="918.3" y1="405.1" x2="925.6" y2="405.1"/>
<line x1="918.3" y1="408.4" x2="925.6" y2="408.4"/>
<line x1="918.3" y1="411.7" x2="925.6" y2="411.7"/>
<line x1="918.3" y1="415" x2="925.6" y2="415"/>
<rect x="915.3" y="414.2" width="26.7" height="13" stroke-width="1.6"/>
<line x1="915.3" y1="418.6" x2="942" y2="418.6"/>
<line x1="915.3" y1="423" x2="942" y2="423"/>
<line x1="917.8" y1="414.2" x2="917.8" y2="427.2" stroke-width="1.4"/>
<line x1="925.6" y1="414.2" x2="925.6" y2="427.2" stroke-width="1.4"/>
<line x1="932.9" y1="414.2" x2="932.9" y2="427.2" stroke-width="1.4"/>
<line x1="940.4" y1="414.2" x2="940.4" y2="427.2" stroke-width="1.4"/>
<line x1="932.9" y1="427.2" x2="932.9" y2="477.5"/>
<line x1="941.6" y1="427.2" x2="941.6" y2="477.5"/>
<line x1="932.9" y1="427.2" x2="941.6" y2="427.2"/>
<line x1="932.9" y1="430.6" x2="941.6" y2="430.6"/>
<line x1="932.9" y1="433.9" x2="941.6" y2="433.9"/>
<line x1="932.9" y1="437.3" x2="941.6" y2="437.3"/>
<line x1="932.9" y1="440.6" x2="941.6" y2="440.6"/>
<line x1="932.9" y1="444" x2="941.6" y2="444"/>
<line x1="932.9" y1="447.3" x2="941.6" y2="447.3"/>
<line x1="932.9" y1="450.7" x2="941.6" y2="450.7"/>
<line x1="932.9" y1="454" x2="941.6" y2="454"/>
<line x1="932.9" y1="457.4" x2="941.6" y2="457.4"/>
<line x1="932.9" y1="460.7" x2="941.6" y2="460.7"/>
<line x1="932.9" y1="464.1" x2="941.6" y2="464.1"/>
<line x1="932.9" y1="467.4" x2="941.6" y2="467.4"/>
<line x1="932.9" y1="470.8" x2="941.6" y2="470.8"/>
<line x1="932.9" y1="474.1" x2="941.6" y2="474.1"/>
<line x1="932.9" y1="477.5" x2="941.6" y2="477.5"/>
<line x1="941.8" y1="414.2" x2="941.8" y2="477.5" stroke-width="2"/>
<path d="M942 477.5 L926.9 477.5 L926.9 468 Q927 465.6 929.4 465.5 L932.9 465.5" stroke-width="1.4"/>
<line x1="926.9" y1="469.8" x2="942" y2="469.8"/>
<line x1="926.9" y1="473.6" x2="942" y2="473.6"/>
<path d="M920.3 474.6 Q922.6 471 925.4 472 Q927.2 472.8 926.2 475" stroke-width="1.6"/>
<line x1="920.4" y1="474.2" x2="899.8" y2="514.4" stroke-width="2.1"/>
<line x1="926.3" y1="474.6" x2="903.6" y2="519.6" stroke-width="2.1"/>
<line x1="923.4" y1="473.6" x2="901.8" y2="516.6" stroke-width="1"/>
<polygon points="899.8,514.4 899.4,519.8 897.8,523.6 900.6,524.6 903.6,519.6" stroke-width="1" fill="#000"/>
<line x1="878" y1="240.8" x2="992.4" y2="240.8"/>
<line x1="985.3" y1="240.8" x2="985.3" y2="529.6"/>
<polygon points="985.3,240.8 983,252.8 987.6,252.8" fill="#000" stroke-width="0.5"/>
<polygon points="985.3,529.6 983.1,518.1 987.5,518.1" fill="#000" stroke-width="0.5"/>
<line x1="953" y1="529.6" x2="991.4" y2="529.6"/>
<line x1="971.8" y1="494.3" x2="971.8" y2="556.2"/>
<polygon points="971.8,520.2 969.6,509.2 974,509.2" fill="#000" stroke-width="0.5"/>
<polygon points="971.8,529.6 969.6,540.6 974,540.6" fill="#000" stroke-width="0.5"/>
<line x1="952" y1="520.2" x2="977.2" y2="520.2"/>
<line x1="734.8" y1="541.5" x2="913.4" y2="541.5"/>
<polygon points="760.2,541.5 747.2,539.2 747.2,543.8" fill="#000" stroke-width="0.5"/>
<polygon points="782.2,541.5 796.2,539.2 796.2,543.8" fill="#000" stroke-width="0.5"/>
<polygon points="913.4,541.5 899.9,539.3 899.9,543.7" fill="#000" stroke-width="0.5"/>
<line x1="760.2" y1="530.4" x2="760.2" y2="548.6"/>
<line x1="782.2" y1="530.4" x2="782.2" y2="548.6"/>
<line x1="913.4" y1="530.4" x2="913.4" y2="549.6"/>
<line x1="771.5" y1="558.2" x2="925.9" y2="558.2"/>
<polygon points="771.5,558.2 783,555.9 783,560.5" fill="#000" stroke-width="0.5"/>
<polygon points="925.9,558.2 913.9,556 913.9,560.4" fill="#000" stroke-width="0.5"/>
<line x1="771.5" y1="516.5" x2="771.5" y2="573.3"/>
<line x1="925.9" y1="516.5" x2="925.9" y2="568.6"/>
<line x1="744.5" y1="576.4" x2="952" y2="576.4"/>
<polygon points="744.5,576.4 758,574.1 758,578.7" fill="#000" stroke-width="0.5"/>
<polygon points="952,576.4 938,574.1 938,578.7" fill="#000" stroke-width="0.5"/>
<line x1="744.5" y1="519.5" x2="744.5" y2="583.6"/>
<line x1="952" y1="519.5" x2="952" y2="583.4"/>
</g>
<text id="title" class="hei" font-size="26.6" text-anchor="middle" x="274.4 296.5 320.3 343.9 360.7 378.4 394.9 410.2 431 444 457.2 478 506.9 535.6 563.9 592.7 620.6 649.2" y="44.7 44.7 47.6 44.7 42.6 44.7 44.7 47.8 44.7 44.7 44.7 47.6 47.6 47.6 47.6 47.6 47.6 47.6">MG<tspan font-size="26.8">型</tspan>5<tspan font-size="15" lengthAdjust="spacingAndGlyphs" textLength="14.8">—</tspan>50<tspan class="heim" font-size="27.5" lengthAdjust="spacingAndGlyphs" stroke="#000" stroke-width="0.5" textLength="19.3">／</tspan>10t<tspan font-size="26.8">双梁门式起重机</tspan></text>
<text class="heim" font-size="26" text-anchor="middle" x="82.9 112.4" y="206.6 206.6">简图</text>
<text class="hei" font-size="25.6" text-anchor="middle" x="71.1 97.1" y="679.4 679.4">简介</text>
<g id="intro">
<text class="body" font-size="19.9" text-anchor="middle" x="65.2 86.4 107.7 128.9 150.1 171.4 192.6 215 225 246.1 267.2 288.3 311.1 321.7 343.2 364.7 386.2 409.3 418.6 440 461.4 482.7 504.1 525.5 546.7 568.4 590.1 611.9 633.6 655.3 675.8 687.5 709.1 730.7 752.3 774.2 795.6 817 838.4 859.8 881.3 902.7 924.1 945.5 966.9 989.9" y="717.7 717.8 717.8 717.9 718 718 718.1 718.1 718.2 718.3 718.3 718.4 718.4 718.5 718.6 718.6 718.7 718.7 718.8 718.9 718.9 719 719.1 719.1 719.2 719.3 719.3 719.4 719.5 719.5 719.6 719.6 719.7 719.8 719.8 719.9 720 720 720.1 720.2 720.2 720.3 720.4 720.4 720.5 720.3">本机适用于矿山、港口码头、铁路货站、露天仓库等物料装卸和搬运，并可配备多种吊具进行特殊作业<tspan font-size="18">。</tspan></text>
<text class="body" font-size="19.9" text-anchor="middle" x="65.6 87 108.4 129.8 147.5" y="750.3 750.4 750.4 750.5 749.6">主要特点<tspan class="colon" font-size="9">：</tspan></text>
<text class="body" font-size="19.9" text-anchor="middle" x="59.4 67.2 85.4 106.9 128.4 149.9 171.4 193.1 203.5 225.1 246.7 268.2 289.8 310.4 332.1 342.8 364.6 386.3 408 429.8 451.5 473.3 495 516.8 537.9" y="780.6 780.6 782.1 782.1 782.2 782.2 782.3 782.3 782.4 782.4 782.5 782.5 782.6 782.6 782.7 782.7 782.8 782.8 782.9 782.9 783 783.1 783.1 783.2 783"><tspan class="num" font-size="20.8">1.</tspan>本机由门架、大车运行机构、小车及电气设备组成<tspan font-size="18">。</tspan></text>
<text class="body" font-size="19.9" text-anchor="middle" x="59.4 67.2 86.1 107.5 128.8 150.2 171.6 193 214.3 235.7 258.1 263.5 284.6 307 328.6 350.2 371.9 393.5 415.1 437.8 447.5 468.8 490 511.3 534.1" y="813.9 813.9 815.4 815.4 815.5 815.5 815.6 815.6 815.7 815.7 815.8 815 815.9 815.9 816 816 816.1 816.2 816.2 816.3 816.3 816.3 816.4 816.5 816.3"><tspan class="num" font-size="20.8">2.</tspan>门架采用箱形双梁、<tspan font-size="16.2" lengthAdjust="spacingAndGlyphs" textLength="9.6">π</tspan>形支腿焊接结构、安全可靠<tspan font-size="18">。</tspan></text>
<text class="body" font-size="19.9" text-anchor="middle" x="59.4 67.2 85.4 106.9 128.4 149.9 171.4 192.8 214.3 235.8 257.3 278.8 300.5 322.1 343.7 365.3 386.9 408.4 430 451.6 473.2 488.9 505 526.1 547.2 563.6 580.6" y="845.6 845.6 847.1 847.1 847.2 847.2 847.3 847.3 847.4 847.4 847.5 847.6 847.6 847.7 847.7 847.8 847.8 847.9 847.9 848 848.1 846 848.1 848.2 848.3 846.2 848.1"><tspan class="num" font-size="20.8">3.</tspan>起重机导电形式分为电缆卷筒式和滑触线式<tspan font-size="17.2" lengthAdjust="spacingAndGlyphs" textLength="7.4">(</tspan>可任选<tspan font-size="17.2" lengthAdjust="spacingAndGlyphs" textLength="7.4">)</tspan><tspan font-size="18">。</tspan></text>
<text class="body" font-size="19.9" text-anchor="middle" x="59.4 67.2 86.1 107.5 129 150.4 171.8 193.3 214.7 236.2 257.6 279 300.5 321.9 343.5" y="878.9 878.9 880.4 880.4 880.5 880.5 880.6 880.6 880.7 880.7 880.8 880.9 880.9 881 880.8"><tspan class="num" font-size="20.8">4.</tspan>小车采用异形钢轨电缆导电<tspan font-size="18">。</tspan></text>
<text class="body" font-size="19.9" text-anchor="middle" x="59.4 67.2 85.4 107 128.6 150.2 171.8 193.4 214.9 236.5 258.1 279.7 301.3 322.9 343.7 354.1 375.5 397.1 408.1 429.6 450.9 461.7 483.4 506.7" y="911.2 911.2 912.7 912.7 912.8 912.8 912.9 912.9 913 913 913.1 913.2 913.2 913.3 913.3 913.4 913.4 913.4 913.5 913.5 913.6 913.6 913.7 913.5"><tspan class="num" font-size="20.8">5.</tspan>全部机构均在操纵室内操纵、方便、灵活、舒适<tspan font-size="18">。</tspan></text>
<text class="body" font-size="19.9" text-anchor="middle" x="59.4 67.2 85.4 106.8 128.3 149.7 171.2 192.6 214.4 225.7 246.9 268.1 288.4 301.5 322.9 344.2 365.9" y="944.6 944.6 946.1 946.1 946.2 946.2 946.3 946.3 946.4 946.4 946.5 946.5 946.6 946.6 946.7 946.7 946.6"><tspan class="num" font-size="20.8">6.</tspan>零部件标准化、通用化、系列化<tspan font-size="18">。</tspan></text>
<text class="body" font-size="19.9" text-anchor="middle" x="65.2 86.2 107.3 128.4 149.4 169.4 179.9 201.8 223.6 245.5 267.4 289.2 311.1 333 354.8 376.7 397.8 407.9 429.5 451.2 472.8 494.4 516 537.7 559.3 583.4 602.7 624.2 645.6 667.1 688.6 710 731.5 753 774.4 795.9 817.4 838.8 860.3 882" y="978.6 978.6 978.7 978.7 978.8 978.8 978.8 978.9 978.9 978.9 979 979 979.1 979.1 979.2 979.2 979.2 979.3 979.3 979.3 979.4 979.4 979.5 979.5 979.5 979.4 979.6 979.7 979.7 979.7 979.8 979.8 979.9 979.9 979.9 980 980 980.1 980.1 979.9">选用本机时，请注明工作环境的最高、最低温度和电源等<tspan font-size="18">。</tspan>可根据用户要求进行更改设计<tspan font-size="18">。</tspan></text>
</g>
<g id="labels">
<text class="dimi" font-size="18" transform="translate(163.8 362.5)">S<tspan class="dimb" font-size="12.6" x="9" y="0">2</tspan></text>
<text class="dimi" font-size="18" transform="translate(119.4 391.7)">S<tspan class="dimb" font-size="12.6" x="8.8" y="0">1</tspan></text>
<text class="dimi" font-size="10.5" transform="translate(215.2 305.2)">A</text>
<text class="dimi" font-size="10.5" transform="translate(257.4 305.2)">L<tspan font-size="8" x="5.2" y="0.2">5</tspan></text>
<text class="dimb" font-size="15.8" transform="translate(134.4 434.8) scale(0.850 1)">L<tspan font-size="8.5" x="10.1" y="2.4">1</tspan></text>
<text class="dims" font-size="12.2" transform="translate(112.3 505.8) scale(0.900 1)">L<tspan font-size="7.5" x="7" y="3.2">3</tspan></text>
<text class="dimb" font-size="10.6" transform="translate(598.8 376) scale(0.820 1)">L<tspan font-size="5.4" x="6.8" y="1.9">2</tspan></text>
<text class="dimb" font-size="10" transform="translate(595.1 332.4) scale(0.900 1)">S<tspan font-size="6" x="5.9" y="2.4">3</tspan></text>
<text class="dimb" font-size="9.4" transform="translate(596.4 348.8) scale(0.900 1)">S<tspan font-size="5.6" x="5.7" y="2.2">4</tspan></text>
<text class="dims" font-size="12.2" transform="translate(328.1 242.2) scale(0.850 1)">B<tspan font-size="6.4" x="8.2" y="3">3</tspan></text>
<text class="dimb" font-size="15.6" transform="translate(215 554) scale(0.780 1)">D</text>
<text class="dimb" font-size="14.6" transform="translate(380 553.3)">S</text>
<text class="dimb" font-size="15.8" transform="translate(19.9 434.2) rotate(-90) scale(0.660 1)">H<tspan font-size="7.5" x="13.3" y="1.6">1</tspan></text>
<text class="dimb" font-size="15.4" transform="translate(291 320.6) rotate(-90) scale(0.660 1)">H<tspan font-size="8" x="13" y="1.2">6</tspan></text>
<text class="dims" font-size="9.2" transform="translate(290 342.6) rotate(-90) scale(0.780 1)">H<tspan font-size="5" x="8.5" y="2.6">2</tspan></text>
<text class="dims" font-size="12.3" transform="translate(355.1 314.2) rotate(-90) scale(0.700 1)">H<tspan font-size="7.4" x="10" y="3.4">5</tspan></text>
<text class="dims" font-size="12.6" transform="translate(309.1 433.2) rotate(-90) scale(0.660 1)">H<tspan font-size="6.5" x="11.8" y="2.8">4</tspan></text>
<text class="dims" font-size="12.2" transform="translate(352.4 433.2) rotate(-90) scale(0.680 1)">H<tspan font-size="6.5" x="11.2" y="3.4">3</tspan></text>
<text class="dims" font-size="12.6" transform="translate(309.7 552.2) rotate(-90) scale(0.660 1)">H<tspan font-size="6.5" x="10.9" y="3">9</tspan></text>
<text class="dims" font-size="12.2" transform="translate(355.8 551.9) rotate(-90) scale(0.680 1)">H<tspan font-size="6.5" x="10.9" y="3.6">8</tspan></text>
<text class="dims" font-size="9.6" transform="translate(842.8 228.6) scale(0.900 1)">B<tspan font-size="8" x="5.7" y="1.9">x</tspan></text>
<text class="dimb" font-size="14.9" transform="translate(981.3 395) rotate(-90) scale(0.800 1)">H</text>
<text class="dims" font-size="11.9" transform="translate(964.9 551.6) rotate(-90) scale(0.620 1)">H<tspan font-size="5.5" x="12.6" y="2.7">7</tspan></text>
<text class="dims" font-size="8.8" transform="translate(843.1 534.8) scale(0.900 1)">B<tspan font-size="6.4" x="5.1" y="3.4">9</tspan></text>
<text class="dims" font-size="9.6" transform="translate(844.6 553.8) scale(0.850 1)">B<tspan font-size="5.4" x="4.9" y="2.2">1</tspan></text>
<text class="dims" font-size="10.2" transform="translate(761.8 549.9) scale(0.900 1)">B<tspan font-size="6" x="6.2" y="3.2">7</tspan></text>
<text class="dimb" font-size="16.2" transform="translate(844.6 573.2) scale(0.780 1)">B</text>
</g>
</svg>
</body>
</html>
